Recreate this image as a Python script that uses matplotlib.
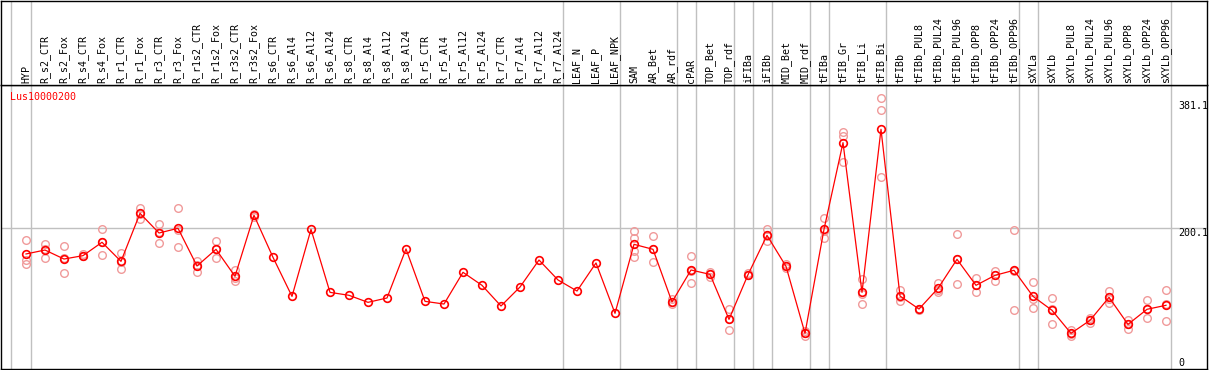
import matplotlib
matplotlib.use('Agg')
import matplotlib.pyplot as plt
import numpy as np

samples = ['HYP', 'R_s2_CTR', 'R_s2_Fox', 'R_s4_CTR', 'R_s4_Fox', 'R_r1_CTR', 'R_r1_Fox',
           'R_r3_CTR', 'R_r3_Fox', 'R_r1s2_CTR', 'R_r1s2_Fox', 'R_r3s2_CTR', 'R_r3s2_Fox',
           'R_s6_CTR', 'R_s6_Al4', 'R_s6_Al12', 'R_s6_Al24', 'R_s8_CTR', 'R_s8_Al4',
           'R_s8_Al12', 'R_s8_Al24', 'R_r5_CTR', 'R_r5_Al4', 'R_r5_Al12', 'R_r5_Al24',
           'R_r7_CTR', 'R_r7_Al4', 'R_r7_Al12', 'R_r7_Al24', 'LEAF_N', 'LEAF_P', 'LEAF_NPK',
           'SAM', 'AR_Bet', 'AR_rdf', 'cPAR', 'TOP_Bet', 'TOP_rdf', 'iFIBa', 'iFIBb',
           'MID_Bet', 'MID_rdf', 'tFIBa', 'tFIB_Gr', 'tFIB_Li', 'tFIB_Bi', 'tFIBb',
           'tFIBb_PUL8', 'tFIBb_PUL24', 'tFIBb_PUL96', 'tFIBb_OPP8', 'tFIBb_OPP24',
           'tFIBb_OPP96', 'sXYLa', 'sXYLb', 'sXYLb_PUL8', 'sXYLb_PUL24', 'sXYLb_PUL96',
           'sXYLb_OPP8', 'sXYLb_OPP24', 'sXYLb_OPP96']

# mean expression per sample
means = [163.6, 169.2, 156.4, 161.2, 180.2, 153.1, 221.4, 193.4, 200.1, 146.5, 170.2, 131.8, 218.6,
         158.8, 103.3, 198.6, 109.0, 104.8, 94.8, 101.0, 170.7, 96.2, 92.4, 137.5, 119.0,
         89.6, 116.6, 155.0, 126.6, 110.9, 150.8, 79.2,
         177.3, 170.2, 95.3, 140.8, 134.6, 70.6, 134.1, 190.1, 146.0, 50.7,
         198.6, 321.9, 109.0, 340.9, 103.8, 85.3, 114.7, 156.0, 119.0, 133.2, 140.4,
         103.3, 83.5, 50.7, 69.2, 101.9, 63.5, 84.9, 90.6]

# individual replicates (empty where only the mean is shown)
replicates = [[183, 155, 149], [178, 158, 171], [174.5, 136, 158], [163, 160, 161],
              [198.7, 161.7, 180], [165, 142.7, 152], [229, 213.8, 221], [206.2, 178.7, 195],
              [229, 173, 198], [154, 137.5, 148], [182, 157.4, 171], [140.8, 124.7, 130],
              [221, 219, 216],
              [], [], [], [], [], [], [], [], [], [], [], [], [], [], [], [], [], [], [],
              [196.3, 185.9, 167.8, 159.8], [189, 151.7, 170], [99, 92, 95],
              [160.2, 121.8, 140], [138, 131, 135], [85.8, 55, 71], [136, 133, 134],
              [199.1, 182.5, 189], [149, 144, 146], [46.4, 54, 51],
              [215.2, 185.9, 196], [337.5, 331.4, 294.4], [128, 92, 107], [385, 368, 273],
              [112.4, 96.2, 103], [86, 84, 85], [122.8, 109, 113], [191.5, 120.4, 156],
              [129.4, 109, 119], [139.8, 125.6, 134], [197.2, 83.5, 140],
              [123.3, 86.3, 100], [100.5, 64.5, 85], [55, 47, 50], [73, 65, 70],
              [111, 94.3, 100], [69.7, 56.9, 64], [97.7, 72.1, 85], [111.9, 67.8, 92]]

# last sample of each group, for the separators
group_ends = [0, 28, 31, 34, 35, 37, 38, 39, 41, 42, 45, 52, 53, 60]

ymax_label = 381.1
ymid_label = 200.1

W, H = 1209, 370
fig = plt.figure(figsize=(W / 100, H / 100), dpi=100)
mono = 'DejaVu Sans Mono'
fs = 7.2

x = np.arange(len(samples))
xlim = ((1 - 26) / 19, (1207 - 26) / 19)

ax = fig.add_axes([1 / W, 1 / H, 1206 / W, 284 / H])
top = fig.add_axes([1 / W, 285 / H, 1206 / W, 84 / H], sharex=ax)

ax.set_xlim(*xlim)
ax.set_ylim(0, 403.9)
for a in (ax, top):
    a.set_xticks([])
    a.set_yticks([])
    for s in a.spines.values():
        s.set_color('black')
        s.set_linewidth(1.0)
top.set_ylim(0, 1)

seps = [-0.8] + [g + 0.25 for g in group_ends]
for sx in seps:
    ax.axvline(sx, color='#c0c0c0', lw=1.0, zorder=0)
    top.axvline(sx, color='#c0c0c0', lw=1.0, zorder=0)
ax.axhline(ymid_label, color='#c0c0c0', lw=1.0, zorder=0)

for i, reps in enumerate(replicates):
    if reps:
        ax.plot([i] * len(reps), reps, linestyle='none', marker='o', markersize=5.5,
                markerfacecolor='none', markeredgecolor='#f09a9a', markeredgewidth=1.0,
                clip_on=False, zorder=2)

ax.plot(x, means, color='red', lw=0.9, marker='o', markersize=5.5,
        markerfacecolor='none', markeredgecolor='red', markeredgewidth=1.2, zorder=3)

for i, name in enumerate(samples):
    top.text(i, 0.024, name, rotation=90, ha='center', va='bottom',
             fontsize=fs, family=mono, color='black')

ax.text(0.0075, 0.975, 'Lus10000200', transform=ax.transAxes, ha='left', va='top',
        fontsize=fs, family=mono, color='red')

tx = (1178 - 1) / 1206
ax.text(tx, ymax_label, '381.1', transform=ax.get_yaxis_transform(), ha='left', va='top',
        fontsize=fs, family=mono)
ax.text(tx, ymid_label, '200.1', transform=ax.get_yaxis_transform(), ha='left', va='top',
        fontsize=fs, family=mono)
ax.text(tx, 2, '0', transform=ax.get_yaxis_transform(), ha='left', va='bottom',
        fontsize=fs, family=mono)

fig.savefig('out.png', dpi=100)
